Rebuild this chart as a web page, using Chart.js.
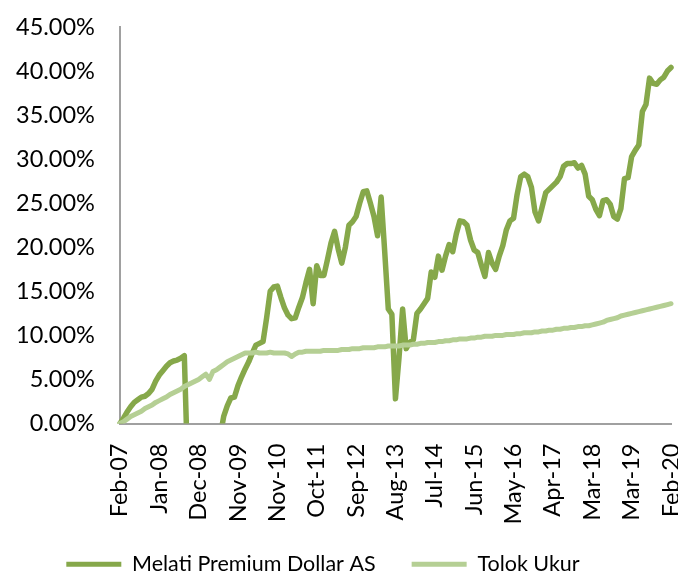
<!DOCTYPE html>
<html><head><meta charset="utf-8">
<script src="https://cdn.jsdelivr.net/npm/chart.js@4/dist/chart.umd.min.js"></script>
<style>html,body{margin:0;padding:0;background:#fff}#wrap{width:678px;height:577px}</style>
</head><body><div id="wrap"><canvas id="c" width="678" height="577"></canvas></div>
<script>
const tickLabels = ["Feb-07","Jan-08","Dec-08","Nov-09","Nov-10","Oct-11","Sep-12","Aug-13","Jul-14","Jun-15","May-16","Apr-17","Mar-18","Mar-19","Feb-20"];
const seriesNames = ["Melati Premium Dollar AS","Tolok Ukur"];
const melati = [
0.0,0.6,1.3,1.9,2.4,2.7,3.0,3.1,3.4,3.9,
4.8,5.5,6.0,6.5,6.9,7.1,7.2,7.4,7.7,-6,
-10,-14,-18,-20,-17,-13,-9,-5,-1.5,0.8,
2.0,2.9,3.0,4.3,5.3,6.2,7.0,8.0,8.9,9.1,
9.3,12.0,15.0,15.5,15.6,14.3,13.1,12.3,11.9,12.0,
13.2,14.3,16.0,17.5,13.6,17.9,16.8,16.8,18.6,20.5,
21.8,19.8,18.2,20.0,22.5,22.9,23.5,25.0,26.3,26.4,
25.0,23.5,21.3,25.7,19.5,13.0,12.4,2.8,7.5,13.0,
8.5,9.2,9.5,12.5,13.0,13.6,14.2,17.2,16.6,19.0,
17.4,19.0,20.3,19.5,21.5,23.0,22.9,22.5,20.8,19.7,
19.4,18.0,16.7,19.4,18.2,17.5,19.0,20.2,22.0,23.0,
23.3,26.0,28.0,28.3,28.0,26.8,24.0,23.0,24.6,26.2,
26.6,27.0,27.4,28.0,29.2,29.5,29.5,29.6,29.0,29.3,
28.3,25.8,25.4,24.3,23.6,25.3,25.4,24.9,23.5,23.2,
24.4,27.8,27.9,30.3,31.0,31.6,35.4,36.2,39.2,38.6,
38.5,39.0,39.3,40.0,40.4];
const tolok = [
0.0,0.2,0.5,0.8,1.0,1.2,1.4,1.7,1.9,2.1,
2.4,2.6,2.8,3.0,3.3,3.5,3.7,3.9,4.2,4.4,
4.6,4.8,5.0,5.3,5.6,5.0,5.9,6.1,6.4,6.7,
7.0,7.2,7.4,7.6,7.8,8.0,8.0,8.0,8.1,8.0,
8.0,8.0,8.1,8.0,8.0,8.0,8.0,7.9,7.6,7.9,
8.1,8.1,8.2,8.2,8.2,8.2,8.2,8.3,8.3,8.3,
8.3,8.3,8.4,8.4,8.4,8.5,8.5,8.5,8.6,8.6,
8.6,8.6,8.7,8.7,8.7,8.8,8.8,8.8,8.8,8.9,
8.9,8.9,9.0,9.0,9.1,9.1,9.2,9.2,9.2,9.3,
9.3,9.4,9.4,9.5,9.5,9.6,9.6,9.6,9.7,9.7,
9.8,9.8,9.9,9.9,9.9,10.0,10.0,10.0,10.1,10.1,
10.1,10.2,10.2,10.3,10.3,10.3,10.4,10.4,10.5,10.5,
10.6,10.6,10.7,10.7,10.8,10.8,10.9,10.9,11.0,11.0,
11.1,11.1,11.2,11.3,11.4,11.5,11.7,11.8,11.9,12.0,
12.2,12.3,12.4,12.5,12.6,12.7,12.8,12.9,13.0,13.1,
13.2,13.3,13.4,13.5,13.6];
const yTicks = {min: 0, max: 45, step: 5};
const labelStep = 11;

const labels = melati.map((_, i) => i % labelStep === 0 ? tickLabels[i / labelStep] : '');
const colors = ["#86A84A", "#B5CF94"];
const FONT = "Lato";

const legendShift = {
  id: 'legendShift',
  afterLayout(chart) {
    const l = chart.legend;
    const dx = -8, dy = -27;
    l.left += dx; l.right += dx; l.top += dy; l.bottom += dy;
  }
};

new Chart(document.getElementById('c'), {
  type: 'line',
  data: {
    labels: labels,
    datasets: [
      {label: seriesNames[0], data: melati, borderColor: colors[0], backgroundColor: colors[0],
       borderWidth: 5.5, pointRadius: 0, tension: 0, order: 1,
       borderJoinStyle: 'round', borderCapStyle: 'round', clip: {left: 3, right: 3, top: 3, bottom: 0}},
      {label: seriesNames[1], data: tolok, borderColor: colors[1], backgroundColor: colors[1],
       borderWidth: 5, pointRadius: 0, tension: 0, order: 0,
       borderJoinStyle: 'round', borderCapStyle: 'round', clip: {left: 3, right: 3, top: 3, bottom: 0}}
    ]
  },
  options: {
    responsive: false,
    animation: false,
    events: [],
    layout: {padding: {top: 27, left: -9, right: 7, bottom: -35}},
    plugins: {
      tooltip: {enabled: false},
      legend: {
        position: 'bottom',
        labels: {
          font: {family: FONT, size: 21.5},
          color: '#000',
          boxWidth: 55,
          boxHeight: 5,
          padding: 36,
          generateLabels(chart) {
            return chart.data.datasets.map((ds, i) => ({
              text: ds.label, fillStyle: ds.borderColor, strokeStyle: ds.borderColor,
              lineWidth: 0, hidden: false, datasetIndex: i, fontColor: '#000'
            }));
          }
        }
      }
    },
    scales: {
      x: {
        grid: {display: false, drawTicks: false},
        border: {display: true, color: '#A0A0A0', width: 2},
        ticks: {autoSkip: false, minRotation: 90, maxRotation: 90, padding: 20,
                font: {family: FONT, size: 23.5}, color: '#000'},
        afterFit(s) { s.paddingLeft = 0; s.paddingRight = 0; }
      },
      y: {
        min: yTicks.min, max: yTicks.max,
        grid: {display: false, drawTicks: false},
        border: {display: true, color: '#A0A0A0', width: 2},
        ticks: {stepSize: yTicks.step, padding: 25, font: {family: FONT, size: 23.5}, color: '#000',
                callback: v => v.toFixed(2) + '%'},
        afterFit(s) { s.paddingTop = 0; s.paddingBottom = 0; }
      }
    }
  },
  plugins: [legendShift]
});
</script></body></html>
